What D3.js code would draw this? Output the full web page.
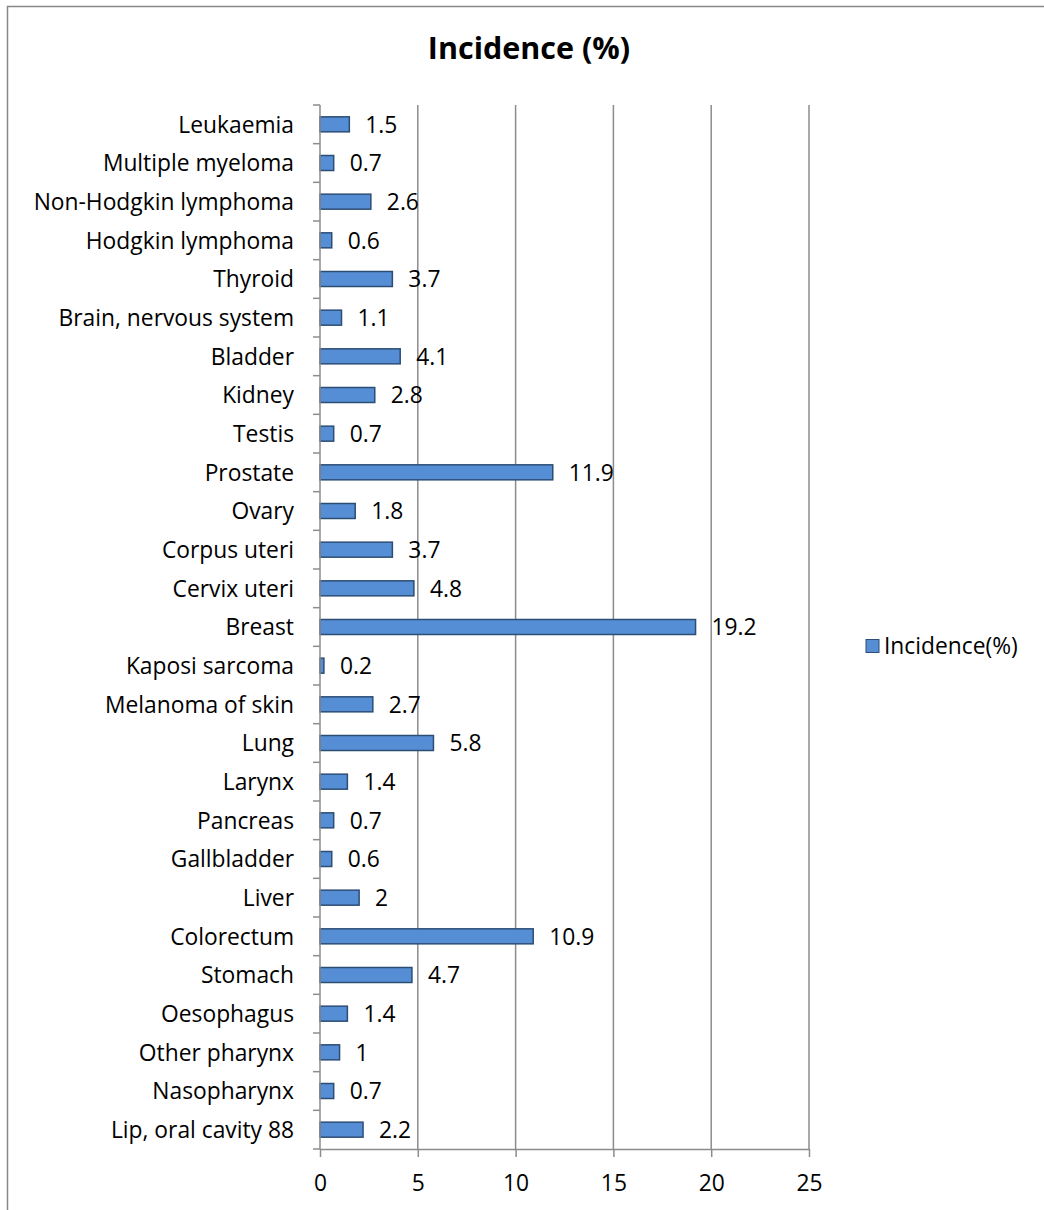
<!DOCTYPE html>
<html>
<head>
<meta charset="utf-8">
<script src="https://cdn.jsdelivr.net/npm/d3@7"></script>
<style>
body { margin: 0; background: #fff; }
svg text { font-family: "Open Sans", sans-serif; fill: #000; }
</style>
</head>
<body>
<div id="chart"></div>
<script>
var categories = ["Leukaemia", "Multiple myeloma", "Non-Hodgkin lymphoma", "Hodgkin lymphoma", "Thyroid",
	"Brain, nervous system", "Bladder", "Kidney", "Testis", "Prostate", "Ovary", "Corpus uteri", "Cervix uteri",
	"Breast", "Kaposi sarcoma", "Melanoma of skin", "Lung", "Larynx", "Pancreas", "Gallbladder", "Liver",
	"Colorectum", "Stomach", "Oesophagus", "Other pharynx", "Nasopharynx", "Lip, oral cavity 88"];
var values = [1.5, 0.7, 2.6, 0.6, 3.7, 1.1, 4.1, 2.8, 0.7, 11.9, 1.8, 3.7, 4.8, 19.2, 0.2, 2.7, 5.8, 1.4,
	0.7, 0.6, 2, 10.9, 4.7, 1.4, 1, 0.7, 2.2];
var labels = ["1.5", "0.7", "2.6", "0.6", "3.7", "1.1", "4.1", "2.8", "0.7", "11.9", "1.8", "3.7", "4.8",
	"19.2", "0.2", "2.7", "5.8", "1.4", "0.7", "0.6", "2", "10.9", "4.7", "1.4", "1", "0.7", "2.2"];
var xTicks = [0, 5, 10, 15, 20, 25];
var seriesName = "Incidence(%)";
var chartTitle = "Incidence (%)";

var W = 1044, H = 1210;
var fs = "22.8px";
var svg = d3.select("#chart").append("svg").attr("width", W).attr("height", H);

// chart frame
svg.append("rect")
	.attr("x", 7.5).attr("y", 6.5)
	.attr("width", W + 20).attr("height", H + 20)
	.attr("fill", "none").attr("stroke", "#888").attr("stroke-width", 1.5);

var plot = { left: 320, right: 809, top: 105, bottom: 1149 };

var x = d3.scaleLinear().domain([0, 25]).range([plot.left, plot.right]);
var yb = d3.scaleBand().domain(categories).range([plot.top, plot.bottom]);

// gridlines
svg.append("g").selectAll("line")
	.data(xTicks.slice(1))
	.enter().append("line")
	.attr("x1", function(d) { return x(d); }).attr("x2", function(d) { return x(d); })
	.attr("y1", plot.top).attr("y2", plot.bottom)
	.attr("stroke", "#8c8c8c").attr("stroke-width", 1.5);

// bars
svg.append("g").selectAll("rect")
	.data(values)
	.enter().append("rect")
	.attr("x", x(0))
	.attr("y", function(d, i) { return yb(categories[i]) + yb.bandwidth() / 2 - 7.5; })
	.attr("width", function(d) { return x(d) - x(0); })
	.attr("height", 15)
	.attr("fill", "#558ed5")
	.attr("stroke", "#2c4d75")
	.attr("stroke-width", 1.5);

// value labels
svg.append("g").selectAll("text")
	.data(values)
	.enter().append("text")
	.attr("x", function(d) { return x(d) + 16; })
	.attr("y", function(d, i) { return yb(categories[i]) + yb.bandwidth() / 2; })
	.attr("dy", "0.36em")
	.attr("font-size", fs)
	.text(function(d, i) { return labels[i]; });

// y axis
var yAxis = svg.append("g");
yAxis.append("line")
	.attr("x1", plot.left).attr("x2", plot.left)
	.attr("y1", plot.top).attr("y2", plot.bottom)
	.attr("stroke", "#8c8c8c").attr("stroke-width", 1.5);
yAxis.selectAll("line.tick")
	.data(d3.range(categories.length + 1))
	.enter().append("line")
	.attr("class", "tick")
	.attr("x1", plot.left - 7).attr("x2", plot.left)
	.attr("y1", function(i) { return plot.top + i * yb.step(); })
	.attr("y2", function(i) { return plot.top + i * yb.step(); })
	.attr("stroke", "#8c8c8c").attr("stroke-width", 1.5);
yAxis.selectAll("text")
	.data(categories)
	.enter().append("text")
	.attr("x", 294)
	.attr("y", function(d) { return yb(d) + yb.bandwidth() / 2; })
	.attr("dy", "0.36em")
	.attr("text-anchor", "end")
	.attr("font-size", fs)
	.text(function(d) { return d; });

// x axis
var xAxis = svg.append("g").attr("transform", "translate(0," + plot.bottom + ")")
	.call(d3.axisBottom(x).tickValues(xTicks).tickSize(8).tickSizeOuter(0).tickPadding(18));
xAxis.select(".domain").attr("stroke", "#8c8c8c").attr("stroke-width", 1.5);
xAxis.selectAll(".tick line").attr("stroke", "#8c8c8c").attr("stroke-width", 1.5);
xAxis.selectAll(".tick text")
	.attr("font-size", fs)
	.attr("font-family", "'Open Sans', sans-serif")
	.attr("fill", "#000");

// title
svg.append("text")
	.attr("x", 529).attr("y", 59)
	.attr("text-anchor", "middle")
	.attr("font-size", "30.5px")
	.attr("font-weight", "bold")
	.text(chartTitle);

// legend
svg.append("rect")
	.attr("x", 866).attr("y", 639.5)
	.attr("width", 13).attr("height", 13)
	.attr("fill", "#558ed5").attr("stroke", "#2c4d75").attr("stroke-width", 1);
svg.append("text")
	.attr("x", 884).attr("y", 646)
	.attr("dy", "0.36em")
	.attr("font-size", fs)
	.text(seriesName);
</script>
</body>
</html>
